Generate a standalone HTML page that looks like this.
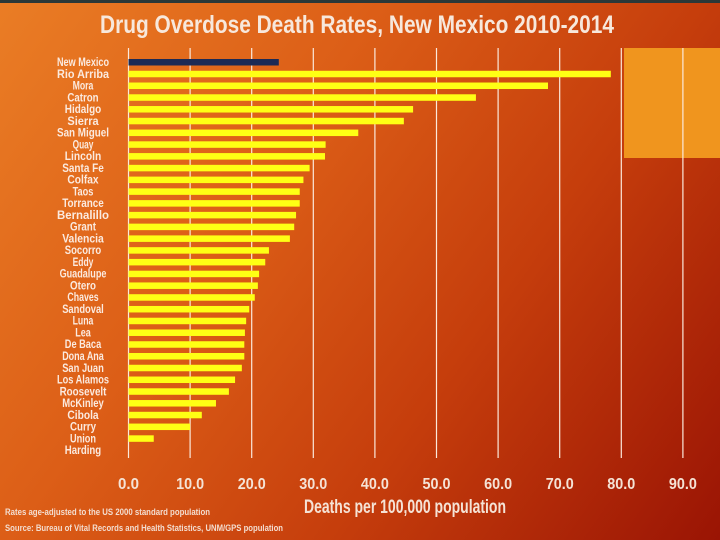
<!DOCTYPE html>
<html><head><meta charset="utf-8"><style>
html,body{margin:0;padding:0}
body{width:720px;height:540px;overflow:hidden;position:relative;font-family:"Liberation Sans",sans-serif;
background:linear-gradient(125deg,#ea7d25 0%,#dc5e17 35%,#c53d0c 65%,#9a1404 100%);}
#topband{position:absolute;left:0;top:0;width:720px;height:3px;background:#2b3838}
#box{position:absolute;left:624px;top:48px;width:96px;height:110px;background:#f0951e}
svg{position:absolute;left:0;top:0}
</style></head><body>
<div id="topband"></div>
<div id="box"></div>
<svg id="chart" width="720" height="540">
<text x="357" y="33" text-anchor="middle" font-size="25" font-weight="bold" fill="#f7e8dc" textLength="514" lengthAdjust="spacingAndGlyphs">Drug Overdose Death Rates, New Mexico 2010-2014</text>
<text x="5" y="515" font-size="9" font-weight="bold" fill="#f3ddd0" textLength="205" lengthAdjust="spacingAndGlyphs">Rates age-adjusted to the US 2000 standard population</text>
<text x="5" y="531" font-size="9" font-weight="bold" fill="#f3ddd0" textLength="278" lengthAdjust="spacingAndGlyphs">Source: Bureau of Vital Records and Health Statistics, UNM/GPS population</text>
</svg>
<script>
const categories=["New Mexico","Rio Arriba","Mora","Catron","Hidalgo","Sierra","San Miguel","Quay","Lincoln","Santa Fe","Colfax","Taos","Torrance","Bernalillo","Grant","Valencia","Socorro","Eddy","Guadalupe","Otero","Chaves","Sandoval","Luna","Lea","De Baca","Dona Ana","San Juan","Los Alamos","Roosevelt","McKinley","Cibola","Curry","Union","Harding"];
const values=[24.4,78.3,68.1,56.4,46.2,44.7,37.3,32.0,31.9,29.4,28.4,27.8,27.8,27.2,26.9,26.2,22.8,22.2,21.2,21.0,20.5,19.6,19.1,18.9,18.8,18.8,18.4,17.3,16.3,14.2,11.9,10.0,4.1,0];
const ticks=[0,10,20,30,40,50,60,70,80,90];
const tickLabels=["0.0","10.0","20.0","30.0","40.0","50.0","60.0","70.0","80.0","90.0"];
const NS="http://www.w3.org/2000/svg";
const svg=document.getElementById('chart');
const x0=128.5,pxPer=6.16;
function xs(v){return x0+v*pxPer;}
const top0=62,pitch=11.76;
function ys(i){return top0+i*pitch;}
function mk(t,a){const e=document.createElementNS(NS,t);for(const k in a)e.setAttribute(k,a[k]);svg.appendChild(e);return e;}
ticks.forEach((t,i)=>{
  const g=mk('line',{x1:xs(t),x2:xs(t),y1:48,y2:458,stroke:'#fbe9dc','stroke-width':1.2});
  
  
  const l=mk('text',{x:xs(t),y:489,'text-anchor':'middle','font-size':16,'font-weight':'bold',fill:'#f5e3d6',textLength:tickLabels[i].length*7,lengthAdjust:'spacingAndGlyphs'});
  l.textContent=tickLabels[i];
  
  
});
categories.forEach((c,i)=>{
  const y=ys(i);
  const b=mk('rect',{x:x0,y:y-3,width:Math.max(0,xs(values[i])-x0),height:6.5,fill:i===0?'#1c2a55':'#ffff14'});
  
  
  const t=mk('text',{x:83,y:y+4,'text-anchor':'middle','font-size':11.5,'font-weight':'bold',fill:'#fbeadf',textLength:c.length*5.2,lengthAdjust:'spacingAndGlyphs'});
  t.textContent=c;
  
  
});
const at=mk('text',{x:405,y:513,'text-anchor':'middle','font-size':19,'font-weight':'bold',fill:'#f5e3d6',textLength:202,lengthAdjust:'spacingAndGlyphs'});
at.textContent='Deaths per 100,000 population';


</script>
</body></html>
